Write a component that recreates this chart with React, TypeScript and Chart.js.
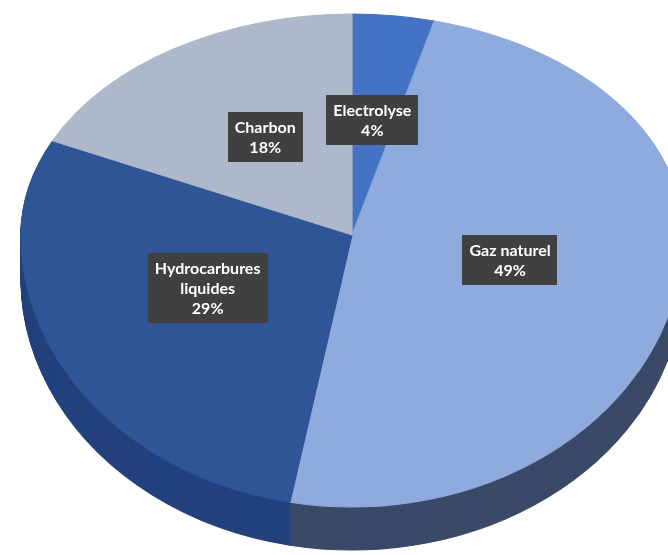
import React, { useEffect, useRef } from "react";
import { Chart, registerables } from "chart.js";

Chart.register(...registerables);

// ---- data ----
const categories: (string | string[])[] = [
  "Electrolyse",
  "Gaz naturel",
  ["Hydrocarbures", "liquides"],
  "Charbon",
];
const shares: number[] = [4, 49, 29, 18];
const topColors: string[] = ["#4472c4", "#8faadc", "#2f5597", "#adb9ca"];
const sideColors: string[] = ["#2d4f8c", "#3b4a68", "#23427d", "#6f7a8a"];

// ---- geometry of the tilted pie ----
const W = 668;
const H = 555;
const CX = 352;
const CY = 235;
const RX = 331;
const RY_TOP = 221;
const RY_BOT = 272;
const DEPTH = 43;
const LABEL_RX = 162;
const LABEL_RY = 116;

const pie3d = {
  id: "pie3d",
  beforeDatasetsDraw(chart: any) {
    const ctx: CanvasRenderingContext2D = chart.ctx;
    const arcs = chart.getDatasetMeta(0).data;
    if (!arcs.length) return false;
    const R = arcs[0].outerRadius;
    const ox = arcs[0].x;
    const oy = arcs[0].y;
    const drawFace = (dy: number, colors: string[] | null) => {
      const halves: [string, number][] = [
        ["top", RY_TOP],
        ["bot", RY_BOT],
      ];
      for (const [half, ry] of halves) {
        ctx.save();
        ctx.beginPath();
        if (half === "top") ctx.rect(0, 0, W, CY + dy);
        else ctx.rect(0, CY + dy, W, H);
        ctx.clip();
        ctx.translate(CX, CY + dy);
        ctx.scale(RX / R, ry / R);
        ctx.translate(-ox, -oy);
        arcs.forEach((arc: any, i: number) => {
          const orig = arc.options;
          if (colors) {
            arc.options = Object.assign({}, orig, {
              backgroundColor: colors[i],
              borderColor: colors[i],
            });
          }
          arc.draw(ctx);
          arc.options = orig;
        });
        ctx.restore();
      }
    };
    for (let d = DEPTH; d >= 1; d--) drawFace(d, sideColors);
    drawFace(0, null);
    return false;
  },
  afterDraw(chart: any) {
    const ctx: CanvasRenderingContext2D = chart.ctx;
    const arcs = chart.getDatasetMeta(0).data;
    const total = shares.reduce((a, b) => a + b, 0);
    ctx.save();
    ctx.font = 'bold 16px Lato, "Liberation Sans", sans-serif';
    ctx.textAlign = "center";
    ctx.textBaseline = "middle";
    arcs.forEach((arc: any, i: number) => {
      const mid = (arc.startAngle + arc.endAngle) / 2;
      const x = CX + Math.cos(mid) * LABEL_RX;
      const y = CY + Math.sin(mid) * LABEL_RY;
      const cat = categories[i];
      const lines = (Array.isArray(cat) ? cat : [cat]).concat(
        Math.round((shares[i] / total) * 100) + "%"
      );
      const lh = 20;
      const w = Math.max(...lines.map((l) => ctx.measureText(l).width)) + 14;
      const h = lines.length * lh + 10;
      ctx.fillStyle = "#404040";
      ctx.fillRect(Math.round(x - w / 2), Math.round(y - h / 2), Math.round(w), h);
      ctx.fillStyle = "#ffffff";
      lines.forEach((l, k) => {
        ctx.fillText(l, x, y - h / 2 + 5 + lh * k + lh / 2 + 1);
      });
    });
    ctx.restore();
  },
};

export default function App() {
  const ref = useRef<HTMLCanvasElement>(null);
  useEffect(() => {
    document.body.style.margin = "0";
    const chart = new Chart(ref.current!, {
      type: "pie",
      data: {
        labels: categories as any,
        datasets: [
          {
            data: shares,
            backgroundColor: topColors,
            borderColor: topColors,
            borderWidth: 1,
          },
        ],
      },
      options: {
        responsive: false,
        animation: false,
        events: [],
        plugins: { legend: { display: false }, tooltip: { enabled: false } },
      },
      plugins: [pie3d],
    });
    return () => chart.destroy();
  }, []);
  return (
    <div style={{ width: W, height: H, background: "#fff" }}>
      <canvas ref={ref} width={W} height={H} style={{ display: "block" }} />
    </div>
  );
}
